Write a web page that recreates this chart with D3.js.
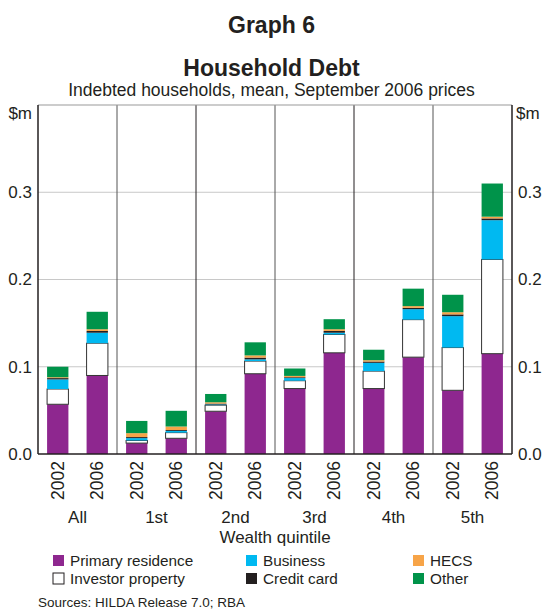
<!DOCTYPE html>
<html>
<head>
<meta charset="utf-8">
<script src="https://cdn.jsdelivr.net/npm/d3@7"></script>
<style>
  body { margin: 0; background: #fff; }
  svg { font-family: "Liberation Sans", Arial, sans-serif; }
</style>
</head>
<body>
<div id="chart"></div>
<script>
// categories
var groups = ["All", "1st", "2nd", "3rd", "4th", "5th"];
var years = ["2002", "2006"];
var yTicks = [0, 0.1, 0.2, 0.3];

// $m, one value per group/year (All 2002, All 2006, 1st 2002, ...)
var primary  = [0.057, 0.090, 0.0125, 0.018, 0.049, 0.092, 0.075, 0.116, 0.075, 0.111, 0.073, 0.115];
var investor = [0.0175, 0.037, 0.003, 0.0065, 0.007, 0.0145, 0.009, 0.021, 0.020, 0.043, 0.049, 0.108];
var business = [0.011, 0.012, 0.0027, 0.002, 0.0008, 0.002, 0.003, 0.002, 0.0095, 0.012, 0.036, 0.045];
var credit   = [0.0015, 0.002, 0.0012, 0.001, 0.001, 0.002, 0.001, 0.002, 0.0015, 0.0015, 0.002, 0.002];
var hecs     = [0.001, 0.002, 0.0045, 0.004, 0.0015, 0.0025, 0.0015, 0.002, 0.0015, 0.002, 0.0025, 0.002];
var other    = [0.012, 0.020, 0.014, 0.018, 0.0095, 0.015, 0.0085, 0.0115, 0.012, 0.020, 0.020, 0.038];

var seriesNames = ["Primary residence", "Investor property", "Business", "Credit card", "HECS", "Other"];
var seriesKeys = ["primary", "investor", "business", "credit", "hecs", "other"];
var colors = ["#8e278f", "#ffffff", "#00b9f1", "#231f20", "#f7a448", "#00934a"];

var rows = [];
groups.forEach(function(g, gi) {
  years.forEach(function(yr, yi) {
    var i = gi * 2 + yi;
    rows.push({group: g, year: yr, primary: primary[i], investor: investor[i], business: business[i],
               credit: credit[i], hecs: hecs[i], other: other[i]});
  });
});

var W = 543, H = 609;
var m = {left: 38, right: 31, top: 105, bottom: 155};
var iw = W - m.left - m.right, ih = H - m.top - m.bottom;
var ink = "#231f20";

var svg = d3.select("#chart").append("svg").attr("width", W).attr("height", H);

// titles
svg.append("text").attr("x", W / 2).attr("y", 33).attr("text-anchor", "middle")
  .style("font-size", "23px").style("font-weight", "bold").attr("fill", ink).text("Graph 6");
svg.append("text").attr("x", W / 2).attr("y", 76).attr("text-anchor", "middle")
  .style("font-size", "23px").style("font-weight", "bold").attr("fill", ink).text("Household Debt");
svg.append("text").attr("x", W / 2).attr("y", 96).attr("text-anchor", "middle")
  .style("font-size", "17.5px").attr("fill", ink).text("Indebted households, mean, September 2006 prices");

var g = svg.append("g").attr("transform", "translate(" + m.left + "," + m.top + ")");

var x0 = d3.scaleBand().domain(groups).range([0, iw]);
var x1 = d3.scaleBand().domain(years).range([0, x0.bandwidth()]).paddingInner(0.46).paddingOuter(0.23);
var y = d3.scaleLinear().domain([0, 0.4]).range([ih, 0]);

// grid lines
g.selectAll(".grid").data(yTicks.slice(1)).enter().append("line")
  .attr("x1", 0).attr("x2", iw).attr("y1", y).attr("y2", y)
  .attr("stroke", "#c8c8c8").attr("stroke-width", 1);

// group dividers
g.selectAll(".div").data(groups.slice(1)).enter().append("line")
  .attr("x1", function(d) { return x0(d); }).attr("x2", function(d) { return x0(d); })
  .attr("y1", 0).attr("y2", ih)
  .attr("stroke", function(d, i) { return i % 2 == 1 ? ink : "#555"; }).attr("stroke-width", 1);

// stacked bars
var stack = d3.stack().keys(seriesKeys);
var layers = stack(rows);

g.selectAll(".layer").data(layers).enter().append("g")
  .attr("fill", function(d, i) { return colors[i]; })
  .each(function(layer, li) {
    d3.select(this).selectAll("rect").data(layer).enter().append("rect")
      .attr("x", function(d) { return x0(d.data.group) + x1(d.data.year); })
      .attr("width", x1.bandwidth())
      .attr("y", function(d) { return y(d[1]); })
      .attr("height", function(d) { return y(d[0]) - y(d[1]); })
      .attr("stroke", li == 1 ? "#333" : "none")
      .attr("stroke-width", li == 1 ? 1 : 0);
  });

// frame
g.append("line").attr("x1", 0).attr("x2", iw).attr("y1", 0).attr("y2", 0).attr("stroke", "#999");
g.append("line").attr("x1", 0).attr("x2", iw).attr("y1", ih).attr("y2", ih).attr("stroke", ink).attr("stroke-width", 1.5);
g.append("line").attr("x1", 0).attr("x2", 0).attr("y1", 0).attr("y2", ih).attr("stroke", ink).attr("stroke-width", 1.5);
g.append("line").attr("x1", iw).attr("x2", iw).attr("y1", 0).attr("y2", ih).attr("stroke", ink).attr("stroke-width", 1.5);

// y axis labels, both sides
var fmt = d3.format(".1f");
g.selectAll(".yl").data(yTicks).enter().append("text")
  .attr("x", -6).attr("y", y).attr("dy", "0.35em").attr("text-anchor", "end")
  .style("font-size", "17px").attr("fill", ink).text(fmt);
g.selectAll(".yr").data(yTicks).enter().append("text")
  .attr("x", iw + 6).attr("y", y).attr("dy", "0.35em").attr("text-anchor", "start")
  .style("font-size", "17px").attr("fill", ink).text(fmt);
g.append("text").attr("x", -6).attr("y", 8).attr("dy", "0.35em").attr("text-anchor", "end")
  .style("font-size", "17px").attr("fill", ink).text("$m");
g.append("text").attr("x", iw + 4).attr("y", 8).attr("dy", "0.35em").attr("text-anchor", "start")
  .style("font-size", "17px").attr("fill", ink).text("$m");

// x labels: years rotated, then groups
rows.forEach(function(r) {
  var cx = x0(r.group) + x1(r.year) + x1.bandwidth() / 2;
  g.append("text")
    .attr("transform", "translate(" + cx + "," + (ih + 7) + ") rotate(-90)")
    .attr("dy", "0.35em").attr("text-anchor", "end")
    .style("font-size", "17.5px").attr("fill", ink).text(r.year);
});
g.selectAll(".gl").data(groups).enter().append("text")
  .attr("x", function(d) { return x0(d) + x0.bandwidth() / 2; }).attr("y", ih + 69)
  .attr("text-anchor", "middle").style("font-size", "17px").attr("fill", ink).text(function(d) { return d; });
g.append("text").attr("x", iw / 2).attr("y", ih + 89).attr("text-anchor", "middle")
  .style("font-size", "17px").attr("fill", ink).text("Wealth quintile");

// legend
var legX = [53, 246, 413];
var legend = svg.selectAll(".leg").data(seriesNames).enter().append("g")
  .attr("transform", function(d, i) {
    var col = Math.floor(i / 2), row = i % 2;
    return "translate(" + legX[col] + "," + (555 + row * 18) + ")";
  });
legend.append("rect").attr("width", 11).attr("height", 11)
  .attr("fill", function(d, i) { return colors[seriesNames.indexOf(d)]; })
  .attr("stroke", function(d) { return d == "Investor property" ? ink : "none"; });
legend.append("text").attr("x", 17).attr("y", 6).attr("dy", "0.35em")
  .style("font-size", "15.3px").attr("fill", ink).text(function(d) { return d; });

svg.append("text").attr("x", 38).attr("y", 607).style("font-size", "13.5px").attr("fill", ink)
  .text("Sources: HILDA Release 7.0; RBA");
</script>
</body>
</html>
